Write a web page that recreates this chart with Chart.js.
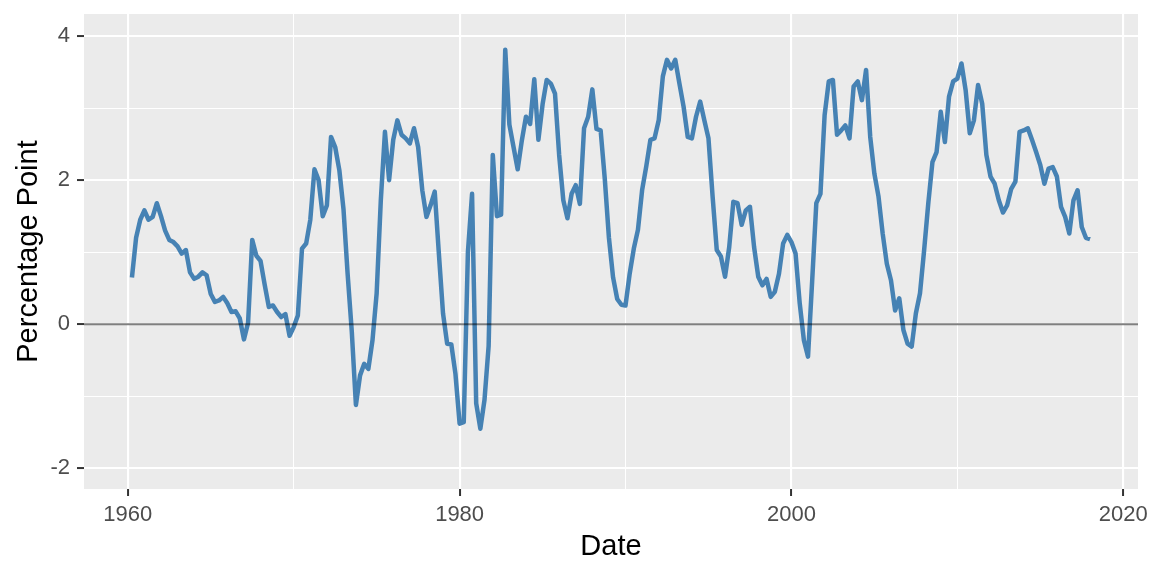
<!DOCTYPE html>
<html><head><meta charset="utf-8">
<script src="https://cdn.jsdelivr.net/npm/chart.js@4.4.1/dist/chart.umd.min.js"></script>
<style>html,body{margin:0;padding:0;background:#fff}canvas{display:block}</style>
</head><body>
<canvas id="c" width="1152" height="576"></canvas>
<script>
// Quarterly series, first observation 1960 Q2 (decimal year 1960.25), last 2018 Q1
const firstQuarter = 1960.25;
const spread = [
  0.65, 1.2, 1.45,               // 1960
  1.58, 1.45, 1.49, 1.68,        // 1961
  1.5, 1.3, 1.17, 1.14,          // 1962
  1.08, 0.98, 1.03, 0.72,        // 1963
  0.63, 0.66, 0.72, 0.68,        // 1964
  0.42, 0.31, 0.33, 0.38,        // 1965
  0.29, 0.17, 0.18, 0.08,        // 1966
  -0.21, 0.02, 1.17, 0.95,       // 1967
  0.88, 0.55, 0.24, 0.26,        // 1968
  0.17, 0.1, 0.14, -0.16,        // 1969
  -0.04, 0.12, 1.05, 1.12,       // 1970
  1.45, 2.15, 2.0, 1.5,          // 1971
  1.65, 2.6, 2.46, 2.14,         // 1972
  1.6, 0.7, -0.1, -1.12,         // 1973
  -0.71, -0.55, -0.62, -0.22,    // 1974
  0.43, 1.72, 2.67, 2.0,         // 1975
  2.56, 2.83, 2.63, 2.58,        // 1976
  2.51, 2.72, 2.46, 1.86,        // 1977
  1.49, 1.65, 1.84, 0.98,        // 1978
  0.15, -0.27, -0.28, -0.69,     // 1979
  -1.38, -1.36, 1.0, 1.81,       // 1980
  -1.1, -1.45, -1.05, -0.3,      // 1981
  2.35, 1.5, 1.52, 3.81,         // 1982
  2.77, 2.46, 2.15, 2.55,        // 1983
  2.88, 2.78, 3.4, 2.56,         // 1984
  3.05, 3.39, 3.34, 3.2,         // 1985
  2.35, 1.72, 1.47, 1.81,        // 1986
  1.93, 1.67, 2.72, 2.88,        // 1987
  3.26, 2.71, 2.69, 2.02,        // 1988
  1.2, 0.65, 0.35, 0.27,         // 1989
  0.26, 0.7, 1.05, 1.31,         // 1990
  1.86, 2.19, 2.56, 2.58,        // 1991
  2.83, 3.44, 3.67, 3.55,        // 1992
  3.67, 3.34, 3.02, 2.6,         // 1993
  2.58, 2.88, 3.09, 2.83,        // 1994
  2.58, 1.77, 1.03, 0.94,        // 1995
  0.66, 1.07, 1.7, 1.68,         // 1996
  1.38, 1.58, 1.63, 1.07,        // 1997
  0.66, 0.54, 0.63, 0.38,        // 1998
  0.45, 0.7, 1.12, 1.24,         // 1999
  1.14, 0.98, 0.29, -0.22,       // 2000
  -0.45, 0.6, 1.68, 1.81,        // 2001
  2.9, 3.37, 3.39, 2.63,         // 2002
  2.69, 2.76, 2.58, 3.3,         // 2003
  3.37, 3.11, 3.53, 2.6,         // 2004
  2.09, 1.77, 1.26, 0.84,        // 2005
  0.61, 0.19, 0.36, -0.08,       // 2006
  -0.27, -0.31, 0.15, 0.43,      // 2007
  1.03, 1.68, 2.25, 2.39,        // 2008
  2.95, 2.53, 3.16, 3.37,        // 2009
  3.41, 3.62, 3.25, 2.65,        // 2010
  2.83, 3.32, 3.06, 2.35,        // 2011
  2.05, 1.95, 1.72, 1.55,        // 2012
  1.65, 1.88, 1.98, 2.67,        // 2013
  2.69, 2.72, 2.56, 2.39,        // 2014
  2.21, 1.95, 2.16, 2.18,        // 2015
  2.05, 1.63, 1.49, 1.26,        // 2016
  1.72, 1.86, 1.35, 1.2,         // 2017
  1.18                           // 2018
];
const xTicks = [1960, 1970, 1980, 1990, 2000, 2010, 2020];
const xMajor = [1960, 1980, 2000, 2020];
const yTicks = [-2, -1, 0, 1, 2, 3, 4];
const yMajor = [-2, 0, 2, 4];
const xLimits = [1957.36, 2020.89];
const yLimits = [-2.287, 4.306];

const points = spread.map((v, i) => ({ x: firstQuarter + i * 0.25, y: v }));

const FONT = "'Liberation Sans', Arial, sans-serif";

const panelBg = {
  id: 'panelBg',
  beforeDraw(chart) {
    const { ctx, chartArea: a } = chart;
    ctx.save();
    ctx.fillStyle = '#EBEBEB';
    ctx.fillRect(a.left, a.top, a.right - a.left, a.bottom - a.top);
    ctx.restore();
  }
};
const zeroLine = {
  id: 'zeroLine',
  afterDatasetsDraw(chart) {
    const { ctx, chartArea: a, scales } = chart;
    const y = scales.y.getPixelForValue(0);
    ctx.save();
    ctx.strokeStyle = 'rgba(0,0,0,0.5)';
    ctx.lineWidth = 2;
    ctx.beginPath();
    ctx.moveTo(a.left, y);
    ctx.lineTo(a.right, y);
    ctx.stroke();
    ctx.restore();
  }
};

new Chart(document.getElementById('c'), {
  type: 'line',
  data: {
    datasets: [{
      data: points,
      borderColor: '#4682B4',
      borderWidth: 4.5,
      pointRadius: 0,
      tension: 0,
      fill: false,
      borderJoinStyle: 'round',
      borderCapStyle: 'butt'
    }]
  },
  options: {
    responsive: false,
    animation: false,
    devicePixelRatio: 1,
    layout: { padding: { top: 14, right: 14, left: 0, bottom: 0 } },
    plugins: { legend: { display: false }, tooltip: { enabled: false } },
    scales: {
      x: {
        type: 'linear',
        min: xLimits[0], max: xLimits[1],
        afterBuildTicks: s => { s.ticks = xTicks.map(v => ({ value: v })); },
        afterFit: s => { s.height = 87; s.paddingLeft = 0; s.paddingRight = 0; },
        border: { display: false },
        grid: {
          color: '#FFFFFF',
          lineWidth: c => (c.tick && xMajor.includes(c.tick.value)) ? 2.1 : 1.05,
          tickLength: 7,
          tickWidth: 2,
          tickColor: c => (c.tick && xMajor.includes(c.tick.value)) ? '#333333' : 'rgba(0,0,0,0)'
        },
        ticks: {
          autoSkip: false, maxRotation: 0,
          callback: v => xMajor.includes(v) ? String(v) : '',
          color: '#4D4D4D',
          font: { family: FONT, size: 22, lineHeight: 1 },
          padding: 8
        },
        title: {
          display: true, text: 'Date', color: '#000000',
          font: { family: FONT, size: 29, lineHeight: 1 },
          padding: { top: 0, bottom: 14.5 }
        }
      },
      y: {
        type: 'linear',
        min: yLimits[0], max: yLimits[1],
        afterBuildTicks: s => { s.ticks = yTicks.map(v => ({ value: v })); },
        afterFit: s => { s.width = 84; s.paddingTop = 0; s.paddingBottom = 0; },
        border: { display: false },
        grid: {
          color: '#FFFFFF',
          lineWidth: c => (c.tick && yMajor.includes(c.tick.value)) ? 2.1 : 1.05,
          tickLength: 7,
          tickWidth: 2,
          tickColor: c => (c.tick && yMajor.includes(c.tick.value)) ? '#333333' : 'rgba(0,0,0,0)'
        },
        ticks: {
          autoSkip: false,
          callback: v => yMajor.includes(v) ? String(v) : '',
          color: '#4D4D4D',
          font: { family: FONT, size: 22, lineHeight: 1 },
          padding: 7
        },
        title: {
          display: true, text: 'Percentage Point', color: '#000000',
          font: { family: FONT, size: 29, lineHeight: 1 },
          padding: { top: 14, bottom: 0 }
        }
      }
    }
  },
  plugins: [panelBg, zeroLine]
});
</script>
</body></html>
